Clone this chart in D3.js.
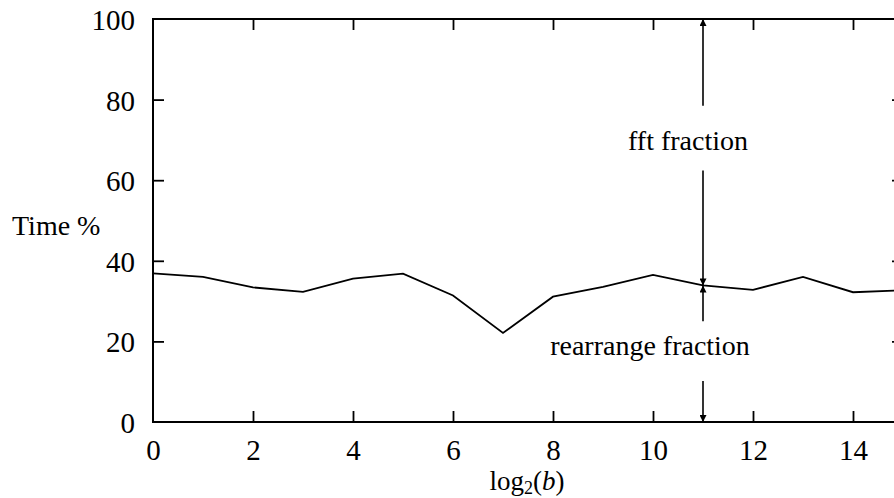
<!DOCTYPE html>
<html>
<head>
<meta charset="utf-8">
<script src="https://cdn.jsdelivr.net/npm/d3@7"></script>
<style>
  html, body { margin: 0; padding: 0; background: #fff; overflow: hidden; }
  svg text { font-family: "Liberation Serif", "DejaVu Serif", serif; fill: #000; }
</style>
</head>
<body>
<svg id="chart" width="894" height="498"></svg>
<script>
// ---- data ----
const log2b = [0, 1, 2, 3, 4, 5, 6, 7, 8, 9, 10, 11, 12, 13, 14, 15];
const rearrangePct = [36.9, 36.0, 33.4, 32.3, 35.6, 36.8, 31.4, 22.1, 31.1, 33.5, 36.5, 33.9, 32.8, 36.0, 32.2, 32.7];
const xTicks = [0, 2, 4, 6, 8, 10, 12, 14];
const yTicks = [0, 20, 40, 60, 80, 100];
const annotationX = 11;
const fftLabel = "fft fraction";
const rearrangeLabel = "rearrange fraction";
const yLabel = "Time %";

(function () {
const svg = d3.select("#chart");
const x = d3.scaleLinear().domain([0, 15]).range([153, 903]);
const y = d3.scaleLinear().domain([0, 100]).range([422, 19]);

const g = svg.append("g");
const fs = 28;
const tfs = 29;

// frame
g.append("rect")
  .attr("x", x(0)).attr("y", y(100))
  .attr("width", x(15) - x(0)).attr("height", y(0) - y(100))
  .attr("fill", "none").attr("stroke", "#000").attr("stroke-width", 2);

const tickLen = 11;
function styleAxis(sel) {
  sel.select(".domain").remove();
  sel.selectAll(".tick line").attr("stroke", "#000").attr("stroke-width", 1.8);
  sel.selectAll(".tick text").attr("font-size", tfs).attr("font-family", "Liberation Serif");
}
const axBottom = g.append("g").attr("transform", `translate(0,${y(0)})`)
  .call(d3.axisBottom(x).tickValues(xTicks).tickSizeInner(-tickLen).tickSizeOuter(0).tickPadding(17).tickFormat(d3.format("d")));
styleAxis(axBottom);
axBottom.selectAll(".tick").filter(d => d === 0).select("line").remove();

const axTop = g.append("g").attr("transform", `translate(0,${y(100)})`)
  .call(d3.axisTop(x).tickValues(xTicks.filter(d => d > 0)).tickSizeInner(-tickLen).tickSizeOuter(0).tickFormat(""));
styleAxis(axTop);

const axLeft = g.append("g").attr("transform", `translate(${x(0)},0)`)
  .call(d3.axisLeft(y).tickValues(yTicks).tickSizeInner(-tickLen).tickSizeOuter(0).tickPadding(18).tickFormat(d3.format("d")));
styleAxis(axLeft);
axLeft.selectAll(".tick").filter(d => d === 0 || d === 100).select("line").remove();
axLeft.selectAll(".tick text").attr("dy", "0.36em");

const axRight = g.append("g").attr("transform", `translate(${x(15)},0)`)
  .call(d3.axisRight(y).tickValues(yTicks.filter(d => d > 0 && d < 100)).tickSizeInner(-tickLen).tickSizeOuter(0).tickFormat(""));
styleAxis(axRight);

// data line
const line = d3.line().x((d, i) => x(log2b[i])).y(d => y(d));
g.append("path").datum(rearrangePct)
  .attr("d", line).attr("fill", "none").attr("stroke", "#000").attr("stroke-width", 1.8)
  .attr("stroke-linejoin", "miter");

// arrow markers
const defs = svg.append("defs");
defs.append("marker").attr("id", "ah").attr("viewBox", "0 0 10 10")
  .attr("refX", 10).attr("refY", 5).attr("markerWidth", 8).attr("markerHeight", 7)
  .attr("markerUnits", "userSpaceOnUse").attr("orient", "auto")
  .append("path").attr("d", "M0,0 L10,5 L0,10 Z").attr("fill", "#000");

const ax = x(annotationX);
const splitVal = rearrangePct[log2b.indexOf(annotationX)];
const segs = [
  [78.5, 100],
  [62.4, splitVal],
  [25.0, splitVal],
  [10.2, 0]
];
segs.forEach(([from, to]) => {
  g.append("line").attr("x1", ax).attr("x2", ax)
    .attr("y1", y(from)).attr("y2", y(to))
    .attr("stroke", "#000").attr("stroke-width", 1.6)
    .attr("marker-end", "url(#ah)");
});

// labels
g.append("text").attr("x", 688).attr("y", y(67.5)).attr("text-anchor", "middle")
  .attr("font-size", fs).text(fftLabel);
g.append("text").attr("x", 650).attr("y", y(16.6)).attr("text-anchor", "middle")
  .attr("font-size", fs).text(rearrangeLabel);
g.append("text").attr("x", 12).attr("y", 235).attr("font-size", fs).text(yLabel);

const xl = g.append("text").attr("x", 527).attr("y", 490).attr("text-anchor", "middle").attr("font-size", 27);
xl.append("tspan").text("log");
xl.append("tspan").attr("font-size", 18).attr("dy", 4).text("2");
xl.append("tspan").attr("dy", -4).text("(");
xl.append("tspan").attr("font-style", "italic").text("b");
xl.append("tspan").text(")");
})();
</script>
</body>
</html>
